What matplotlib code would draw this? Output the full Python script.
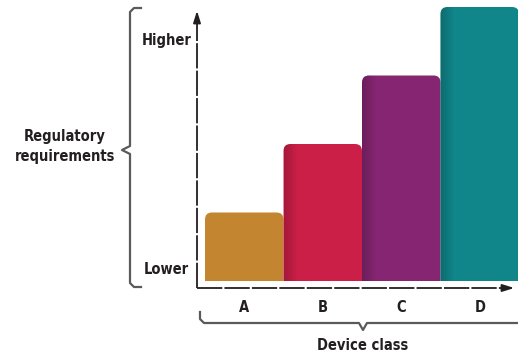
import numpy as np
import matplotlib
matplotlib.use('Agg')
import matplotlib.pyplot as plt
from matplotlib.patches import FancyBboxPatch
from matplotlib.colors import LinearSegmentedColormap

# Data
classes = ['A', 'B', 'C', 'D']
levels = [1, 2, 3, 4]
colors = ['#C3852F', '#CC1F47', '#862571', '#10858A']
axis_title_y = ['Regulatory', 'requirements']
axis_title_x = 'Device class'
y_low, y_high = 'Lower', 'Higher'

FONT = ['DejaVu Sans Condensed', 'Liberation Sans Narrow', 'DejaVu Sans']
TXT = '#231F20'
W, H = 518, 358

fig = plt.figure(figsize=(W/100, H/100), dpi=100)

# bar axes (pixel box: x 205..519, y 7..281 from top)
ax = fig.add_axes([205/W, (H-281)/H, 314/W, 274/H])
ax.set_xlim(-0.5, 3.5)
ax.set_ylim(0, 4)
for s in ax.spines.values():
    s.set_visible(False)
ax.set_yticks([])
ax.set_xticks(range(len(classes)), classes)
ax.tick_params(axis='x', length=0, pad=14)
for t in ax.get_xticklabels():
    t.set_fontfamily(FONT)
    t.set_fontstretch('condensed')
    t.set_fontweight('bold')
    t.set_fontsize(10.5)
    t.set_color(TXT)

# rounded bars, with a soft shadow on the left edge
bars = ax.bar(range(len(classes)), levels, width=1.0, color='none')
px_x = 4/314.0
px_y = 4/274.0
shade = LinearSegmentedColormap.from_list('sh', [(0, 0, 0, 0.2), (0, 0, 0, 0.0)])
for i, (b, c) in enumerate(zip(bars, colors)):
    x0, w, h = b.get_x(), b.get_width(), b.get_height()
    p = FancyBboxPatch((x0, -0.5), w, h + 0.5,
                       boxstyle='round,pad=0,rounding_size=%f' % (7*px_x),
                       mutation_aspect=px_y/px_x, fc=c, ec='none', zorder=2)
    ax.add_patch(p)
    if i > 0:
        grad = np.linspace(0, 1, 64).reshape(1, -1)
        im = ax.imshow(grad, cmap=shade, extent=[x0, x0 + 14*px_x, 0, h],
                       aspect='auto', zorder=3, interpolation='bilinear')
        im.set_clip_path(p)
ax.set_xlim(-0.5, 3.5)
ax.set_ylim(0, 4)

# overlay in pixel coords for axis arrows, brackets and labels
ov = fig.add_axes([0, 0, 1, 1], facecolor='none')
ov.set_xlim(0, W)
ov.set_ylim(H, 0)
ov.axis('off')

dash = (0, (14, 1.2))
ov.plot([197, 197], [288, 18], color='#231F20', lw=1.3, linestyle=dash)
ov.plot([197, 508], [288, 288], color='#231F20', lw=1.3, linestyle=dash)
ov.annotate('', xy=(197, 8), xytext=(197, 20),
            arrowprops=dict(arrowstyle='-|>,head_length=0.7,head_width=0.22',
                            color='#231F20', lw=1.3))
ov.annotate('', xy=(517, 288), xytext=(505, 288),
            arrowprops=dict(arrowstyle='-|>,head_length=0.7,head_width=0.22',
                            color='#231F20', lw=1.3))

# left bracket
bc = '#5A5A5A'
ov.plot([141, 134, 130, 130, 122, 130, 130, 134, 141],
        [8, 8, 12, 146, 150, 154, 283, 287, 287],
        color=bc, lw=1.6, solid_joinstyle='round')
# bottom bracket
ov.plot([200, 200, 204, 359, 363, 367, 518],
        [312, 319, 323, 323, 330, 323, 323],
        color=bc, lw=1.6, solid_joinstyle='round')

tkw = dict(fontfamily=FONT, fontstretch='condensed', fontweight='bold', color=TXT, fontsize=10.5)
ov.text(65, 136, axis_title_y[0], ha='center', va='center', **tkw)
ov.text(65, 157, axis_title_y[1], ha='center', va='center', **tkw)
ov.text(192, 41, y_high, ha='right', va='center', **tkw)
ov.text(189, 269, y_low, ha='right', va='center', **tkw)
ov.text(363, 345, axis_title_x, ha='center', va='center', **tkw)

fig.savefig('out.png', dpi=100)
